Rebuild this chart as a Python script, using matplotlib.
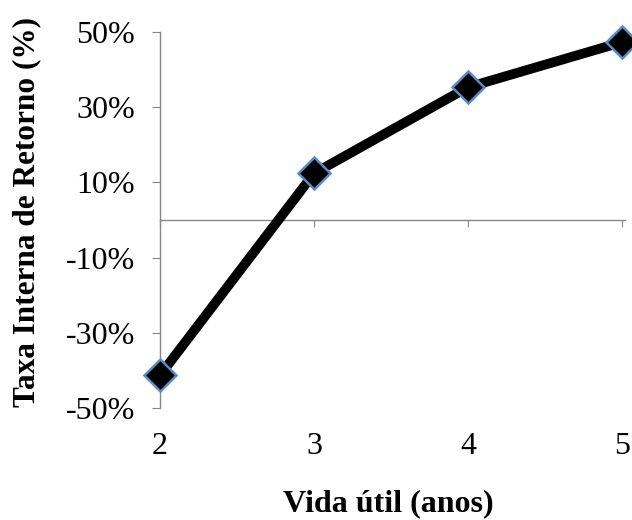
import matplotlib
matplotlib.use("Agg")
import matplotlib.pyplot as plt
from matplotlib.ticker import FuncFormatter

anos = [2, 3, 4, 5]
tir = [-41.3, 12.4, 35.3, 47.3]
y_ticks = [-50, -30, -10, 10, 30, 50]

plt.rcParams['font.family'] = ['Liberation Serif', 'DejaVu Serif']

fig = plt.figure(figsize=(6.32, 5.2), dpi=100)
ax = fig.add_axes([160 / 632, 1 - 408 / 520, 465 / 632, 376 / 520])

ax.plot(anos, tir, color='black', lw=7, marker='D', ms=16,
        mfc='black', mec='#5b8ac4', mew=1.8, solid_capstyle='butt',
        zorder=3, clip_on=False)

ax.set_xlim(2, 5.02)
ax.set_ylim(-50, 50)
ax.set_yticks(y_ticks)
ax.yaxis.set_major_formatter(FuncFormatter(lambda v, p: f"{v:.0f}%"))
ax.set_xticks(anos)

for s in ['top', 'right']:
    ax.spines[s].set_visible(False)
ax.spines['bottom'].set_position(('data', 0))
ax.spines['bottom'].set_color('#868686')
ax.spines['left'].set_color('#868686')
ax.spines['bottom'].set_linewidth(1)
ax.spines['left'].set_linewidth(1)

ax.tick_params(axis='y', direction='out', length=6, color='#868686',
               labelsize=23, pad=12)
ax.tick_params(axis='x', direction='out', length=5, color='#868686',
               labelsize=23, pad=148)

ax.set_xlabel('Vida útil (anos)', fontsize=23, fontweight='bold')
ax.xaxis.set_label_coords(0.49, -0.215)
ax.set_ylabel('Taxa Interna de Retorno (%)', fontsize=22.5, fontweight='bold')
ax.yaxis.set_label_coords(-0.255, 0.52)

fig.savefig('out.png', dpi=100)
